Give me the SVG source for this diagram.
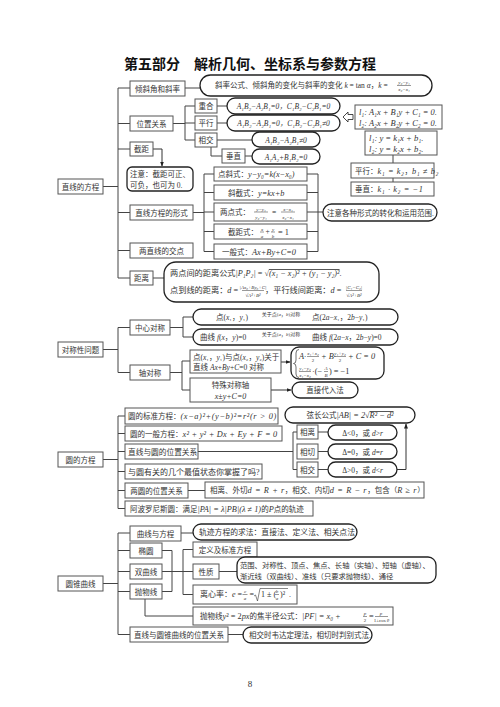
<svg xmlns="http://www.w3.org/2000/svg" width="500" height="707" viewBox="0 0 500 707">
<defs>
<style>
text{font-family:"Liberation Serif","Noto Sans CJK SC",serif;font-size:7.5px;fill:#333}
.c{text-anchor:middle}
.i{font-style:italic}
.m{font-size:8.3px;letter-spacing:0.6px}
.m2{font-size:8.3px}
.s{font-size:5px;letter-spacing:0}
.t{font-family:"Noto Sans CJK SC",sans-serif;font-size:14px;font-weight:bold;fill:#111}
.bx{fill:#fff;stroke:#555;stroke-width:1}
.pl{fill:#fff;stroke:#222;stroke-width:1.3}
.ln{fill:none;stroke:#444;stroke-width:1}
.ar{fill:none;stroke:#333;stroke-width:1;marker-end:url(#ah)}
.fl{stroke:#333;stroke-width:0.5}
.ov{text-decoration:overline}
</style>
<marker id="ah" viewBox="0 0 10 10" refX="9" refY="5" markerWidth="5" markerHeight="5" orient="auto"><path d="M0,1 L10,5 L0,9 z" fill="#222"/></marker>
</defs>
<rect width="500" height="707" fill="#fff"/>
<text class="t c" x="250" y="69">第五部分　解析几何、坐标系与参数方程</text>

<g id="connectors">
 <path class="ln" d="M103,186.5H118 M118,88V278 M118,88H130 M118,123.5H130 M118,149H130 M118,212.5H130 M118,250.5H130 M118,278H130 M185,88H200"/>
 <path class="ln" d="M173,123.5H185 M185,106V140 M185,106H195 M185,123H195 M185,140H195 M217,106H227 M217,123H227 M217,140H252 M211,147V156H222 M245,156H252"/>
 <path class="ln" d="M393,155V163 M393,178V182"/>
 <path d="M343,117 L348,112 V114.5 H353 V119.5 H348 V122 Z" fill="#fff" stroke="#333" stroke-width="0.9"/>
 <path class="ar" d="M153,149H162V166"/>
 <path class="ln" d="M193,212.5H204 M204,174V251.5 M204,174H214 M204,192.5H214 M204,212H214 M204,231.5H214 M204,251.5H214 M307,174H318 M307,192.5H318 M307,212H318 M307,231.5H318 M307,251.5H318 M318,174V251.5 M318,212H323 M153,278H164"/>
 <path class="ln" d="M103,349.5H118 M118,327.5V372.5 M118,327.5H130 M118,372.5H130 M170,327.5H183 M183,317V337 M183,317H193 M183,337H193 M170,372.5H182 M182,361V390 M182,361H190 M182,390H190"/>
 <path class="ar" d="M281,362H290"/>
 <path class="ar" d="M271,390H291"/>
 <path class="ar" d="M252,317.5H310"/>
 <path class="ar" d="M252,337.5H310"/>
 <path class="ln" d="M103,459.5H118 M118,416V508.5 M118,416H125 M118,433.5H125 M118,451.5H125 M118,471.5H125 M118,490.5H125 M118,508.5H125 M198,451.5H293 M293,432V469.5 M293,432H297 M293,469.5H297 M318,432H328 M318,451.5H328 M318,469.5H328 M188,490.5H205"/>
 <path class="ar" d="M397,469.5H406V424"/>
 <path class="ln" d="M103,583.5H118 M118,533V634.5 M118,533H130 M118,550.5H130 M118,571.5H130 M118,591.5H130 M118,634.5H130 M181,533H193 M162,550.5H172 M162,571.5H172 M162,591.5H172 M172,550.5V591.5 M172,571.5H193 M183,549.5V594.5 M183,549.5H193 M183,594.5H193 M219,571.5H237 M145,599V616H193 M228,634.5H243"/>
</g>

<!-- Section 1 -->
<g id="n-zhixian"><rect class="bx" x="58" y="179" width="45" height="15"/><text class="c" x="80.5" y="189.5">直线的方程</text></g>
<g id="n-qingxie"><rect class="bx" x="130" y="81" width="55" height="15"/><text class="c" x="157.5" y="91.5">倾斜角和斜率</text></g>
<g id="n-xielv"><rect class="pl" x="200" y="75" width="232" height="21" rx="10.5"/>
 <text x="215" y="88">斜率公式、倾斜角的变化与斜率的变化<tspan class="i"> k</tspan> = tan <tspan class="i">α</tspan>，<tspan class="i">k</tspan> =</text>
 <text class="s i c" x="404" y="84">y₂−y₁</text><line class="fl" x1="397" y1="85.5" x2="411" y2="85.5"/><text class="s i c" x="404" y="91">x₂−x₁</text>
</g>
<g id="n-weizhi"><rect class="bx" x="130" y="116" width="43" height="15"/><text class="c" x="151.5" y="126.5">位置关系</text></g>
<g id="n-chonghe"><rect class="bx" x="195" y="99" width="22" height="14"/><text class="c" x="206" y="109">重合</text></g>
<g id="n-chonghe-f"><rect class="pl" x="227" y="98" width="113" height="16" rx="8"/><text class="c i" x="283.5" y="109">A₁B₂−A₂B₁=0，C₁B₂−C₂B₁=0</text></g>
<g id="n-pingxing"><rect class="bx" x="195" y="116" width="22" height="14"/><text class="c" x="206" y="126">平行</text></g>
<g id="n-pingxing-f"><rect class="pl" x="227" y="115" width="113" height="16" rx="8"/><text class="c i" x="283.5" y="126">A₁B₂−A₂B₁=0，C₁B₂−C₂B₁≠0</text></g>
<g id="n-xiangjiao"><rect class="bx" x="195" y="133" width="22" height="14"/><text class="c" x="206" y="143">相交</text></g>
<g id="n-xiangjiao-f"><rect class="pl" x="252" y="132" width="68" height="15" rx="7.5"/><text class="c i" x="286" y="142.5">A₁B₂−A₂B₁≠0</text></g>
<g id="n-chuizhi"><rect class="bx" x="222" y="149" width="23" height="14"/><text class="c" x="233.5" y="159">垂直</text></g>
<g id="n-chuizhi-f"><rect class="pl" x="252" y="149" width="68" height="15" rx="7.5"/><text class="c i" x="286" y="159.5">A₁A₂+B₁B₂=0</text></g>
<g id="n-l-general"><rect class="bx" x="355" y="105" width="87" height="24"/>
 <text class="i" x="359" y="115" style="font-size:8.4px">l₁: A₁x + B₁y + C₁ = 0.</text><text class="i" x="359" y="125.5" style="font-size:8.4px">l₂: A₂x + B₂y + C₂ = 0.</text></g>
<g id="n-l-slope"><rect class="bx" x="365" y="131" width="72" height="24"/>
 <text class="i" x="369" y="141" style="font-size:8.6px">l₁: y = k₁x + b₁.</text><text class="i" x="369" y="151.5" style="font-size:8.6px">l₂: y = k₂x + b₂.</text></g>
<g id="n-k-pingxing"><rect class="bx" x="351" y="163" width="83" height="15"/><text x="355" y="173.5">平行：<tspan class="i m">k₁ = k₂</tspan>，<tspan class="i m">b₁ ≠ b₂</tspan></text></g>
<g id="n-k-chuizhi"><rect class="bx" x="351" y="182" width="83" height="14"/><text x="355" y="192">垂直：<tspan class="i m">k₁ · k₂ = −1</tspan></text></g>
<g id="n-jieju"><rect class="bx" x="130" y="142" width="23" height="14"/><text class="c" x="141.5" y="152">截距</text></g>
<g id="n-note"><rect class="pl" x="127" y="167" width="66" height="24" rx="5"/><text x="130" y="177">注意：截距可正、</text><text x="130" y="187.5">可负，也可为 0.</text></g>
<g id="n-xingshi"><rect class="bx" x="130" y="205" width="63" height="15"/><text class="c" x="161.5" y="215.5">直线方程的形式</text></g>
<g id="n-dianxie"><rect class="bx" x="214" y="167" width="93" height="14"/><text x="218" y="177">点斜式：<tspan class="i m2">y−y₀=k(x−x₀)</tspan></text></g>
<g id="n-xiejie"><rect class="bx" x="214" y="185" width="93" height="15"/><text x="228" y="195.5">斜截式：<tspan class="i m2">y=kx+b</tspan></text></g>
<g id="n-liangdian"><rect class="bx" x="214" y="203" width="93" height="18"/><text x="220" y="215">两点式：</text>
 <text class="s i c" x="261" y="210.5">y−y₁</text><line class="fl" x1="254" y1="212" x2="268" y2="212"/><text class="s i c" x="261" y="218.5">y₂−y₁</text>
 <text class="c" x="274" y="214.5">=</text>
 <text class="s i c" x="288" y="210.5">x−x₁</text><line class="fl" x1="281" y1="212" x2="295" y2="212"/><text class="s i c" x="288" y="218.5">x₂−x₁</text></g>
<g id="n-jiejushi"><rect class="bx" x="214" y="224" width="93" height="15"/><text x="228" y="234.5">截距式：</text>
 <text class="s i c" x="262" y="230.5">x</text><line class="fl" x1="260" y1="232" x2="264" y2="232"/><text class="s i c" x="262" y="237.5">a</text>
 <text class="c" x="267.5" y="234">+</text>
 <text class="s i c" x="273" y="230.5">y</text><line class="fl" x1="271" y1="232" x2="275" y2="232"/><text class="s i c" x="273" y="237.5">b</text>
 <text x="278" y="234.5" style="font-size:8.3px">= 1</text></g>
<g id="n-yiban"><rect class="bx" x="214" y="244" width="93" height="15"/><text x="222" y="254.5">一般式：<tspan class="i m2">Ax+By+C=0</tspan></text></g>
<g id="n-zhuyi"><rect class="pl" x="323" y="204" width="114" height="17" rx="8.5"/><text x="327" y="215.5">注意各种形式的转化和运用范围.</text></g>
<g id="n-jiaodian"><rect class="bx" x="130" y="243" width="63" height="15"/><text class="c" x="161.5" y="253.5">两直线的交点</text></g>
<g id="n-juli"><rect class="bx" x="130" y="271" width="23" height="14"/><text class="c" x="141.5" y="281">距离</text></g>
<g id="n-juli-f"><rect class="pl" x="164" y="262" width="215" height="40" rx="12"/>
 <text x="170" y="276" style="font-size:8.2px">两点间的距离公式<tspan class="i">|P₁P₂|</tspan> = √<tspan class="i ov">(x₁ − x₂)² + (y₁ − y₂)²</tspan>.</text>
 <text x="170" y="293" style="font-size:8.2px">点到线的距离：<tspan class="i">d</tspan> =</text>
 <text class="s i c" x="253" y="289">|Ax₀+By₀+C|</text><line class="fl" x1="242" y1="290.5" x2="264" y2="290.5"/><text class="s i c" x="253" y="296.5">√A²+B²</text>
 <text x="265" y="293" style="font-size:8.2px">，平行线间距离：<tspan class="i">d</tspan> =</text>
 <text class="s i c" x="354" y="289">|C₁−C₂|</text><line class="fl" x1="346" y1="290.5" x2="362" y2="290.5"/><text class="s i c" x="354" y="296.5">√A²+B²</text>
</g>

<!-- Section 2 -->
<g id="n-duicheng"><rect class="bx" x="58" y="342" width="45" height="15"/><text class="c" x="80.5" y="352.5">对称性问题</text></g>
<g id="n-zhongxin"><rect class="bx" x="130" y="320" width="40" height="15"/><text class="c" x="150" y="330.5">中心对称</text></g>
<g id="n-zx1"><rect class="pl" x="193" y="309" width="205" height="16" rx="8"/>
 <text x="216" y="320">点(<tspan class="i">x</tspan>₁，<tspan class="i">y</tspan>₁)</text>
 <text class="s c" x="281" y="315.5">关于点(<tspan class="i">a</tspan>，<tspan class="i">b</tspan>)对称</text>
 <text x="312" y="320">点(2<tspan class="i">a</tspan>−<tspan class="i">x</tspan>₁，2<tspan class="i">b</tspan>−<tspan class="i">y</tspan>₁)</text></g>
<g id="n-zx2"><rect class="pl" x="193" y="329" width="205" height="16" rx="8"/>
 <text x="200" y="340">曲线 <tspan class="i">f</tspan>(<tspan class="i">x</tspan>，<tspan class="i">y</tspan>)=0</text>
 <text class="s c" x="281" y="335.5">关于点(<tspan class="i">a</tspan>，<tspan class="i">b</tspan>)对称</text>
 <text x="312" y="340">曲线 <tspan class="i">f</tspan>(2<tspan class="i">a</tspan>−<tspan class="i">x</tspan>，2<tspan class="i">b</tspan>−<tspan class="i">y</tspan>)=0</text></g>
<g id="n-zhou"><rect class="bx" x="130" y="365" width="40" height="15"/><text class="c" x="150" y="375.5">轴对称</text></g>
<g id="n-zhou1"><rect class="bx" x="190" y="350" width="91" height="23"/>
 <text x="193" y="359.5">点(<tspan class="i">x</tspan>₁，<tspan class="i">y</tspan>₁)与点(<tspan class="i">x</tspan>₂，<tspan class="i">y</tspan>₂)关于</text>
 <text x="193" y="369.5">直线 <tspan class="i">Ax</tspan>+<tspan class="i">By</tspan>+<tspan class="i">C</tspan>=0 对称</text></g>
<g id="n-zhou1-f"><rect class="pl" x="291" y="347" width="93" height="32" rx="8"/>
 <path d="M299,349.5 Q296,349.5 296,353 V360 Q296,363.5 293.5,363.5 Q296,363.5 296,367 V374 Q296,377.5 299,377.5" fill="none" stroke="#333" stroke-width="0.7"/>
 <text class="i" x="299" y="359" style="font-size:8.3px">A·</text>
 <text class="s i c" x="313" y="355">x₁+x₂</text><line class="fl" x1="307" y1="356.5" x2="319" y2="356.5"/><text class="s c" x="313" y="362">2</text>
 <text class="i" x="321" y="359" style="font-size:8.3px">+ B·</text>
 <text class="s i c" x="340" y="355">y₁+y₂</text><line class="fl" x1="334" y1="356.5" x2="346" y2="356.5"/><text class="s c" x="340" y="362">2</text>
 <text class="i" x="348" y="359" style="font-size:8.3px">+ C = 0</text>
 <text class="s i c" x="305" y="370">y₁−y₂</text><line class="fl" x1="299" y1="371.5" x2="311" y2="371.5"/><text class="s i c" x="305" y="377">x₁−x₂</text>
 <text x="312" y="374" style="font-size:8.3px">·(−</text>
 <text class="s i c" x="326" y="370">A</text><line class="fl" x1="324" y1="371.5" x2="328" y2="371.5"/><text class="s i c" x="326" y="377">B</text>
 <text x="329" y="374" style="font-size:8.3px">) = −1</text></g>
<g id="n-zhou2"><rect class="bx" x="190" y="378" width="81" height="24"/><text class="c" x="230.5" y="388">特殊对称轴</text><text class="c i" x="230.5" y="398.5" style="font-size:8px">x±y+C=0</text></g>
<g id="n-zhou2-f"><rect class="pl" x="292" y="382" width="66" height="16" rx="8"/><text class="c" x="325" y="393">直接代入法</text></g>

<!-- Section 3 -->
<g id="n-yuan"><rect class="bx" x="58" y="452" width="45" height="15"/><text class="c" x="80.5" y="462.5">圆的方程</text></g>
<g id="n-biaozhun"><rect class="bx" x="125" y="408" width="153" height="16"/><text x="128" y="419">圆的标准方程：<tspan class="i m">(x−a)²+(y−b)²=r²(r &gt; 0)</tspan></text></g>
<g id="n-yiban-y"><rect class="bx" x="125" y="426" width="157" height="15"/><text x="130" y="437">圆的一般方程：<tspan class="i m2" style="letter-spacing:0.25px">x² + y² + Dx + Ey + F = 0</tspan></text></g>
<g id="n-zxy"><rect class="bx" x="125" y="444" width="73" height="15"/><text x="128" y="455" style="font-size:7.7px">直线与圆的位置关系</text></g>
<g id="n-xianli"><rect class="bx" x="297" y="425" width="21" height="14"/><text class="c" x="307.5" y="435">相离</text></g>
<g id="n-xiangqie"><rect class="bx" x="297" y="444" width="21" height="15"/><text class="c" x="307.5" y="454.5">相切</text></g>
<g id="n-xiangjiao2"><rect class="bx" x="297" y="462" width="21" height="15"/><text class="c" x="307.5" y="472.5">相交</text></g>
<g id="n-xianli-f"><rect class="pl" x="328" y="425" width="69" height="15" rx="7.5"/><text class="c" x="362.5" y="435.5">Δ&lt;0，或 <tspan class="i">d</tspan>&gt;<tspan class="i">r</tspan></text></g>
<g id="n-xiangqie-f"><rect class="pl" x="328" y="444" width="69" height="15" rx="7.5"/><text class="c" x="362.5" y="454.5">Δ=0，或 <tspan class="i">d</tspan>=<tspan class="i">r</tspan></text></g>
<g id="n-xiangjiao2-f"><rect class="pl" x="328" y="462" width="69" height="15" rx="7.5"/><text class="c" x="362.5" y="472.5">Δ&gt;0，或 <tspan class="i">d</tspan>&lt;<tspan class="i">r</tspan></text></g>
<g id="n-xianchang"><rect class="pl" x="285" y="407" width="130" height="16" rx="8"/><text class="c" x="350" y="418">弦长公式<tspan class="i m2">|AB| = 2√<tspan class="ov">R² − d²</tspan></tspan></text></g>
<g id="n-zuizhi"><rect class="bx" x="125" y="464" width="137" height="15"/><text x="128" y="474.5" style="font-size:8px">与圆有关的几个最值状态你掌握了吗?</text></g>
<g id="n-liangyuan"><rect class="bx" x="125" y="483" width="63" height="15"/><text class="c" x="156.5" y="493.5">两圆的位置关系</text></g>
<g id="n-liangyuan-f"><rect class="bx" x="205" y="482" width="219" height="16"/><text x="210" y="493">相离、外切<tspan class="i m">d = R + r</tspan>，相交、内切<tspan class="i m">d = R − r</tspan>，包含（<tspan class="i m">R ≥ r</tspan>）</text></g>
<g id="n-apollo"><rect class="bx" x="125" y="501" width="188" height="15"/><text x="130" y="511.5">阿波罗尼斯圆：满足<tspan class="i m2">|PA| = λ|PB|(λ ≠ 1)</tspan>的<tspan class="i m2">P</tspan>点的轨迹</text></g>

<!-- Section 4 -->
<g id="n-zhui"><rect class="bx" x="58" y="576" width="45" height="15"/><text class="c" x="80.5" y="586.5">圆锥曲线</text></g>
<g id="n-quxian"><rect class="bx" x="130" y="526" width="51" height="15"/><text class="c" x="155.5" y="536.5">曲线与方程</text></g>
<g id="n-guiji"><rect class="pl" x="193" y="524" width="164" height="16" rx="8"/><text x="199" y="535" style="font-size:7.8px">轨迹方程的求法：直接法、定义法、相关点法</text></g>
<g id="n-tuoyuan"><rect class="bx" x="130" y="543" width="32" height="15"/><text class="c" x="146" y="553.5">椭圆</text></g>
<g id="n-shuang"><rect class="bx" x="130" y="564" width="32" height="15"/><text class="c" x="146" y="574.5">双曲线</text></g>
<g id="n-pao"><rect class="bx" x="130" y="584" width="32" height="15"/><text class="c" x="146" y="594.5">抛物线</text></g>
<g id="n-dingyi"><rect class="bx" x="193" y="542" width="64" height="15"/><text class="c" x="225" y="552.5">定义及标准方程</text></g>
<g id="n-xingzhi"><rect class="bx" x="193" y="564" width="26" height="15"/><text class="c" x="206" y="574.5">性质</text></g>
<g id="n-xingzhi-f"><rect class="pl" x="237" y="557" width="199" height="26" rx="8"/><text x="240" y="567.5" style="font-size:7.3px">范围、对称性、顶点、焦点、长轴（实轴）、短轴（虚轴）、</text><text x="240" y="578.5" style="font-size:7.3px">渐近线（双曲线）、准线（只要求抛物线）、通径</text></g>
<g id="n-lixin"><rect class="bx" x="193" y="585" width="104" height="19"/>
 <text x="200" y="597" style="font-size:8px">离心率：<tspan class="i">e</tspan> =</text>
 <text class="s i c" x="245" y="593">c</text><line class="fl" x1="242.5" y1="594.5" x2="247.5" y2="594.5"/><text class="s i c" x="245" y="600">a</text>
 <text x="249.5" y="597" style="font-size:8px">=</text>
 <path d="M254,596 L255.5,595 L257.5,601 L260,588.5 H288" fill="none" stroke="#333" stroke-width="0.6"/>
 <text x="261" y="597" style="font-size:8px">1 ± (</text>
 <text class="s i c" x="277" y="593">b</text><line class="fl" x1="275" y1="594.5" x2="279" y2="594.5"/><text class="s i c" x="277" y="600">a</text>
 <text x="280" y="597" style="font-size:8px">)²</text><text x="289" y="597" style="font-size:8px">.</text></g>
<g id="n-paowu"><rect class="bx" x="193" y="607" width="200" height="18"/>
 <text x="200" y="619">抛物线<tspan class="i m2">y</tspan><tspan class="m2">² = 2</tspan><tspan class="i m2">px</tspan>的焦半径公式：<tspan class="i m2">|PF| = x₀ +</tspan></text>
 <text class="s i c" x="365" y="615">p</text><line class="fl" x1="363" y1="616.5" x2="367" y2="616.5"/><text class="s c" x="365" y="622">2</text>
 <text x="369" y="619" style="font-size:8.3px">=</text>
 <text class="s i c" x="381" y="615">p</text><line class="fl" x1="375" y1="616.5" x2="388" y2="616.5"/><text class="s c" x="381.5" y="622">1±cos <tspan class="i">θ</tspan></text></g>
<g id="n-zxzhui"><rect class="bx" x="130" y="627" width="98" height="15"/><text class="c" x="179" y="637.5">直线与圆锥曲线的位置关系</text></g>
<g id="n-zxzhui-f"><rect class="pl" x="243" y="627" width="129" height="16" rx="8"/><text x="249" y="638">相交时韦达定理法，相切时判别式法.</text></g>

<text class="c" x="250" y="687" style="font-size:9px">8</text>
</svg>
